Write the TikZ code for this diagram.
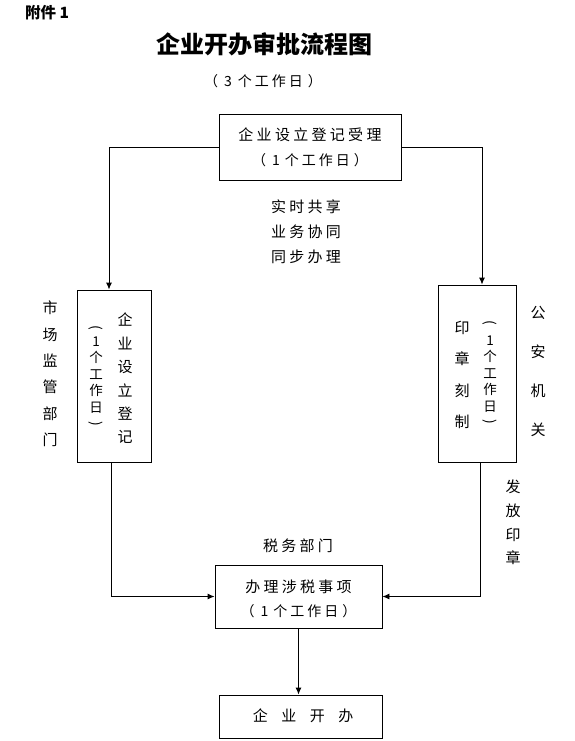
\documentclass[tikz,border=0pt]{standalone}
\usepackage{fontspec}
\usetikzlibrary{arrows.meta}
\newfontfamily\cjk{Noto Sans CJK SC}
\newfontfamily\cjkls[LetterSpace=22]{Noto Sans CJK SC}
\newfontfamily\cjkwide[LetterSpace=90]{Noto Sans CJK SC}
\newcommand\onedayline{{\cjk\fontsize{14}{24}\selectfont （\hspace{6pt}1\hspace{5pt}个\hspace{3pt}工\hspace{3pt}作\hspace{3pt}日\hspace{4pt}）}}
\begin{document}
\begin{tikzpicture}[x=1pt,y=-1pt,
  box/.style={draw, line width=0.9pt, inner sep=0pt},
  arr/.style={line width=0.9pt, -{Latex[length=7pt,width=6pt]}},
  txt/.style={inner sep=0pt, align=center, font=\cjkls\fontsize{15}{25}\selectfont},
  vcol/.style={inner sep=0pt, align=center},
  vpar/.style={inner sep=0pt, rotate=-90, font=\cjk\fontsize{14}{16}\selectfont},
]
\useasboundingbox (0,0) rectangle (575,741);

% header
\node[inner sep=0pt, anchor=west, font=\cjk\bfseries\fontsize{15.5}{17}\selectfont] (att) at (25,13) {附件 1};
\node[inner sep=0pt, font=\cjk\bfseries\fontsize{24}{26}\selectfont] (title) at (264,44.5) {企业开办审批流程图};
\node[inner sep=0pt, font=\cjk\fontsize{14}{16}\selectfont] (sub) at (263,81) {（\hspace{6pt}3\hspace{6pt}个\hspace{3pt}工\hspace{3pt}作\hspace{3pt}日\hspace{5pt}）};

% boxes
\node[box, minimum width=182pt, minimum height=66pt] (b1) at (310,147) {};
\node[txt] (b1t) at (310,147) {企业设立登记受理\\\onedayline};

\node[box, minimum width=74pt, minimum height=172pt] (b2) at (114,376) {};
\node[vcol, font=\cjk\fontsize{15}{23.4}\selectfont] (b2a) at (125,378.5) {企\\业\\设\\立\\登\\记};
\node[vpar] (b2p1) at (96,328) {(};
\node[vcol, font=\cjk\fontsize{13.5}{16.5}\selectfont] (b2b) at (96,375) {1\\个\\工\\作\\日};
\node[vpar] (b2p2) at (96,424) {)};

\node[box, minimum width=78pt, minimum height=177pt] (b3) at (477,373.5) {};
\node[vcol, font=\cjk\fontsize{15}{31.3}\selectfont] (b3a) at (462,375) {印\\章\\刻\\制};
\node[vpar] (b3p1) at (490,323) {(};
\node[vcol, font=\cjk\fontsize{13.5}{16.5}\selectfont] (b3b) at (490,374) {1\\个\\工\\作\\日};
\node[vpar] (b3p2) at (490,422) {)};

\node[box, minimum width=167pt, minimum height=63pt] (b4) at (298.5,596.5) {};
\node[txt, font=\cjkls\fontsize{15}{24}\selectfont] (b4t) at (298.5,599) {办理涉税事项\\\onedayline};

\node[box, minimum width=163pt, minimum height=43pt] (b5) at (300.5,716.5) {};
\node[txt, font=\cjkwide\fontsize{15}{20}\selectfont] (b5t) at (303,716) {企业开办};

% labels
\node[txt] (mid) at (306,232) {实时共享\\业务协同\\同步办理};
\node[vcol, font=\cjk\fontsize{15}{26.4}\selectfont] (lab1) at (50,374) {市\\场\\监\\管\\部\\门};
\node[vcol, font=\cjk\fontsize{15}{39}\selectfont] (lab2) at (538,371.5) {公\\安\\机\\关};
\node[vcol, font=\cjk\fontsize{15}{23.7}\selectfont] (lab3) at (513,522.5) {发\\放\\印\\章};
\node[txt] (lab4) at (298,546) {税务部门};

% connectors
\draw[arr] (b1.west) -| ([xshift=-5pt]b2.north);
\draw[arr] (b1.east) -| ([xshift=5pt]b3.north);
\draw[arr] ([xshift=-3pt]b2.south) |- (b4.west);
\draw[arr] ([xshift=3pt]b3.south) |- (b4.east);
\draw[arr] (b4.south) -- (b4.south |- b5.north);
\end{tikzpicture}
\end{document}
